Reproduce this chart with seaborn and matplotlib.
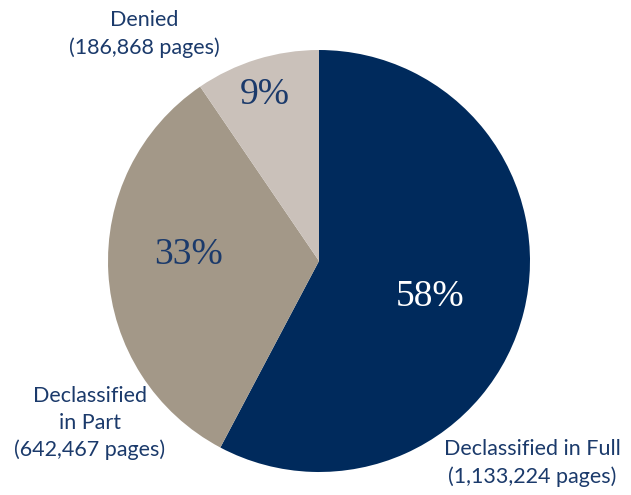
import matplotlib
matplotlib.use("Agg")
import matplotlib.pyplot as plt
import seaborn as sns

categories = ["Declassified in Full", "Declassified in Part", "Denied"]
pages = [1133224, 642467, 186868]
page_labels = ["1,133,224", "642,467", "186,868"]
pct_labels = ["58%", "33%", "9%"]
colors = ["#002a5c", "#a39888", "#cac1ba"]

sns.set_theme(style="white")
plt.rcParams['font.family'] = ['Lato', 'DejaVu Sans']

W, H = 631, 495
fig = plt.figure(figsize=(W / 100, H / 100), dpi=100)
ax = fig.add_axes([0, 0, 1, 1])
cx, cy = 319, 261
R = 211

ax.pie(pages, colors=colors, startangle=90, counterclock=False, radius=R,
       center=(0, 0), wedgeprops=dict(linewidth=0), frame=False)
ax.set_xlim(-cx, W - cx)
ax.set_ylim(-(H - cy), cy)
ax.set_aspect('equal')
ax.axis('off')

navy = "#1b3a6b"
pct_pos = [(430 - cx, cy - 297), (188 - cx, cy - 255), (265 - cx, cy - 95)]
pct_col = ["white", navy, navy]
for (x, y), t, c in zip(pct_pos, pct_labels, pct_col):
    ax.text(x, y, t, ha='center', va='center', fontsize=27, color=c,
            family=['Liberation Serif', 'DejaVu Serif'])

lab_pos = [(532 - cx, cy - 463), (90 - cx, cy - 423), (144 - cx, cy - 34)]
lab_txt = [f"{categories[0]}\n({page_labels[0]} pages)",
           f"Declassified\nin Part\n({page_labels[1]} pages)",
           f"{categories[2]}\n({page_labels[2]} pages)"]
for (x, y), t in zip(lab_pos, lab_txt):
    ax.text(x, y, t, ha='center', va='center', fontsize=15.5, color=navy,
            linespacing=1.4, multialignment='center')

fig.savefig("out.png", dpi=100)
